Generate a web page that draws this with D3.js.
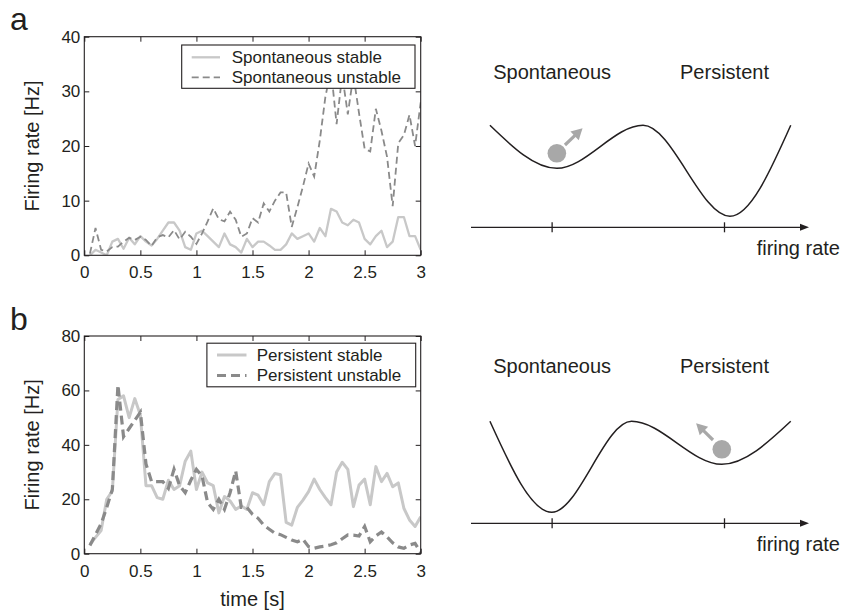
<!DOCTYPE html>
<html>
<head>
<meta charset="utf-8">
<script src="https://cdn.jsdelivr.net/npm/d3@7"></script>
<style>
  body { margin: 0; background: #fff; }
  svg { display: block; font-family: "Liberation Sans", Arial, sans-serif; }
</style>
</head>
<body>
<div id="chart"></div>
<script>
// sample times (s)
const timeS = [
  0.05, 0.10, 0.15, 0.20, 0.25, 0.30, 0.35, 0.40, 0.45, 0.50,
  0.55, 0.60, 0.65, 0.70, 0.75, 0.80, 0.85, 0.90, 0.95, 1.00,
  1.05, 1.10, 1.15, 1.20, 1.25, 1.30, 1.35, 1.40, 1.45, 1.50,
  1.55, 1.60, 1.65, 1.70, 1.75, 1.80, 1.85, 1.90, 1.95, 2.00,
  2.05, 2.10, 2.15, 2.20, 2.25, 2.30, 2.35, 2.40, 2.45, 2.50,
  2.55, 2.60, 2.65, 2.70, 2.75, 2.80, 2.85, 2.90, 2.95, 3.00
];

// panel a : firing rate (Hz)
const spontStable = [
  0, 1, 0.5, 0, 2.5, 3, 1.2, 3.2, 2, 3.5,
  2.5, 1.8, 3, 4.5, 6, 6, 4.5, 1.5, 1, 4,
  4.5, 3.5, 2.5, 1.5, 4, 2, 1.5, 0.5, 3, 1.5,
  2.5, 2.5, 1.8, 1, 1, 2, 4, 3, 3.5, 4,
  2.5, 5, 3.5, 8.5, 8, 6, 5.5, 6.5, 6, 3,
  2, 3.5, 4.5, 1.5, 2.5, 7, 7, 3.5, 3.5, 1
];
const spontUnstable = [
  0.3, 5, 1, 0.7, 1.5, 1.6, 2.5, 3.2, 2.8, 3.4,
  2.8, 1.7, 3.3, 3.7, 3.3, 4.6, 2.9, 4.3, 3.4, 2.1,
  4, 6.2, 8.6, 6.6, 6.2, 8, 6.5, 3.4, 4, 6.8,
  6, 9.5, 8, 10, 11.5, 11.5, 5.2, 8.8, 12.6, 16.8,
  14.4, 21, 29, 34, 24, 33, 25.8, 33, 26, 19.5,
  19, 26.8, 22.8, 18, 9, 20.5, 22, 25.7, 20, 28
];

// panel b : firing rate (Hz)
const persStable = [
  3.4, 6, 8.5, 20, 23, 56.7, 58, 50, 57, 51,
  25, 25, 20.6, 20, 27, 23.6, 25, 34, 37.7, 23.6,
  30, 26, 25, 15, 21, 19.4, 16.3, 17.5, 16.3, 22.4,
  21.5, 18, 26.5, 29.5, 29, 11.5, 10.5, 17, 19.7, 22.8,
  27.4, 23.6, 20.6, 18, 30, 33.6, 31, 17.3, 25.2, 27.4,
  18, 32, 26.5, 29.5, 24.6, 26, 16.7, 12.4, 10, 13.6
];
const persUnstable = [
  3, 7, 11, 17, 23.6, 62, 43, 46, 49, 52,
  33, 26.5, 26.5, 26.5, 24, 31, 25, 22.4, 27, 31,
  28.5, 18.7, 16.3, 20, 16.3, 22.4, 30.4, 17, 17, 14.5,
  13, 10.5, 9, 7.5, 7, 6, 5, 4.4, 5.3, 2.6,
  2, 2.5, 2.8, 3.3, 4, 5.5, 6.9, 6.8, 6.5, 10,
  4.4, 6.5, 8, 6.2, 4, 2.5, 2, 3.2, 3.8, 0.4
];

const xTicks = [0, 0.5, 1, 1.5, 2, 2.5, 3];
const yTicksA = [0, 10, 20, 30, 40];
const yTicksB = [0, 20, 40, 60, 80];
const legendA = ["Spontaneous stable", "Spontaneous unstable"];
const legendB = ["Persistent stable", "Persistent unstable"];

// energy landscapes (schematic): firing-rate position 0..100, height above axis
const stateNames = ["Spontaneous", "Persistent"];
const wellTicks = [24, 75];
const landscapeA = [
  { x: 5.6, u: 102 }, { x: 25.4, u: 59 }, { x: 50.9, u: 102 }, { x: 76.6, u: 11 }, { x: 94.6, u: 102 }
];
const landscapeB = [
  { x: 5.6, u: 102 }, { x: 23.9, u: 11 }, { x: 47.5, u: 102 }, { x: 74.2, u: 59 }, { x: 94.6, u: 102 }
];
const ballA = { x: 25.4, u: 74 }, kickA = [{ x: 27.8, u: 82.3 }, { x: 33.0, u: 99 }];
const ballB = { x: 74.2, u: 74 }, kickB = [{ x: 71.6, u: 83.3 }, { x: 66.6, u: 100 }];

const W = 843, H = 612;
const ink = "#231f20";
const svg = d3.select("#chart").append("svg").attr("width", W).attr("height", H);

const x = d3.scaleLinear().domain([0, 3]).range([84.3, 420.7]);

function drawTraces(cfg) {
  const y = d3.scaleLinear().domain([0, cfg.yMax]).range([cfg.bottom, cfg.top]);
  const g = svg.append("g");
  const clipId = "clip-" + cfg.id;
  svg.append("clipPath").attr("id", clipId).append("rect")
    .attr("x", x(0)).attr("y", cfg.top).attr("width", x(3) - x(0)).attr("height", cfg.bottom - cfg.top);

  const line = d3.line().x((d, i) => x(timeS[i])).y(d => y(d));
  const lines = g.append("g").attr("clip-path", `url(#${clipId})`);
  lines.append("path").attr("d", line(cfg.stable))
    .attr("fill", "none").attr("stroke", "#c8c8c8").attr("stroke-width", cfg.stableW)
    .attr("stroke-linejoin", "round");
  lines.append("path").attr("d", line(cfg.unstable))
    .attr("fill", "none").attr("stroke", "#8a8a8a").attr("stroke-width", cfg.unstableW)
    .attr("stroke-dasharray", cfg.dash);

  // axes: ticks point inward, on all four sides
  const fmt = d => d3.format("")(d);
  g.append("g").attr("transform", `translate(0,${cfg.bottom})`)
    .call(d3.axisBottom(x).tickValues(xTicks).tickFormat(fmt).tickSize(-5).tickPadding(11));
  g.append("g").attr("transform", `translate(0,${cfg.top})`)
    .call(d3.axisTop(x).tickValues(xTicks).tickFormat("").tickSize(-5));
  g.append("g").attr("transform", `translate(${x(0)},0)`)
    .call(d3.axisLeft(y).tickValues(cfg.yTicks).tickSize(-5).tickPadding(4));
  g.append("g").attr("transform", `translate(${x(3)},0)`)
    .call(d3.axisRight(y).tickValues(cfg.yTicks).tickFormat("").tickSize(-5));
  g.selectAll(".domain").remove();
  g.selectAll(".tick line").attr("stroke", ink);
  g.selectAll(".tick text").attr("fill", ink).style("font-size", "17px").style("font-family", "inherit");

  g.append("rect").attr("x", x(0)).attr("y", cfg.top)
    .attr("width", x(3) - x(0)).attr("height", cfg.bottom - cfg.top)
    .attr("fill", "none").attr("stroke", ink).attr("stroke-width", 1.1);

  g.append("text")
    .attr("transform", `translate(38.5,${(cfg.top + cfg.bottom) / 2}) rotate(-90)`)
    .attr("text-anchor", "middle").attr("fill", ink).style("font-size", "20px")
    .text("Firing rate [Hz]");

  // legend
  const lg = cfg.legend;
  g.append("rect").attr("x", lg.x0).attr("y", lg.y0).attr("width", lg.x1 - lg.x0).attr("height", lg.y1 - lg.y0)
    .attr("fill", "#fff").attr("stroke", ink).attr("stroke-width", 1.1);
  const rows = [
    { name: cfg.names[0], color: "#c8c8c8", w: cfg.stableW, dash: null, yy: lg.r0 },
    { name: cfg.names[1], color: "#8a8a8a", w: cfg.unstableW, dash: cfg.dash, yy: lg.r1 }
  ];
  rows.forEach(r => {
    g.append("line").attr("x1", lg.s0).attr("x2", lg.s1).attr("y1", r.yy).attr("y2", r.yy)
      .attr("stroke", r.color).attr("stroke-width", r.w).attr("stroke-dasharray", r.dash);
    g.append("text").attr("x", lg.tx).attr("y", r.yy).attr("dy", "0.35em")
      .attr("fill", ink).style("font-size", "17px").text(r.name);
  });
  return g;
}

drawTraces({
  id: "a", top: 36.7, bottom: 255.3, yMax: 40, yTicks: yTicksA,
  stable: spontStable, unstable: spontUnstable, names: legendA,
  stableW: 2.3, unstableW: 1.8, dash: "7,4",
  legend: { x0: 181.7, x1: 415, y0: 45, y1: 88.3, r0: 57.3, r1: 77.3, s0: 191.7, s1: 220, tx: 231.7 }
});
drawTraces({
  id: "b", top: 336, bottom: 553.7, yMax: 80, yTicks: yTicksB,
  stable: persStable, unstable: persUnstable, names: legendB,
  stableW: 3, unstableW: 3.2, dash: "9,5",
  legend: { x0: 206.9, x1: 415.7, y0: 343.2, y1: 386.8, r0: 355, r1: 375.5, s0: 217, s1: 246.5, tx: 256.7 }
});

svg.append("text").attr("x", x(1.5)).attr("y", 606).attr("text-anchor", "middle")
  .attr("fill", ink).style("font-size", "20px").text("time [s]");

// panel letters
svg.append("text").attr("x", 10).attr("y", 30).attr("fill", ink).style("font-size", "32px").text("a");
svg.append("text").attr("x", 10).attr("y", 330).attr("fill", ink).style("font-size", "32px").text("b");

// landscape diagrams
const fx = d3.scaleLinear().domain([0, 100]).range([471, 809]);

function drawLandscape(axisY, labelY, pts, ball, kick) {
  const u = d3.scaleLinear().domain([0, 100]).range([axisY, axisY - 100]);
  const g = svg.append("g");

  // firing-rate axis with arrow
  g.append("line").attr("x1", fx(0)).attr("x2", fx(98)).attr("y1", axisY).attr("y2", axisY)
    .attr("stroke", ink).attr("stroke-width", 1.3);
  g.append("path").attr("d", `M${fx(100)},${axisY}L${fx(100) - 9},${axisY - 3.5}L${fx(100) - 9},${axisY + 3.5}Z`)
    .attr("fill", ink);
  g.selectAll(".wt").data(wellTicks).enter().append("line")
    .attr("x1", d => fx(d)).attr("x2", d => fx(d)).attr("y1", axisY - 5).attr("y2", axisY + 5)
    .attr("stroke", ink).attr("stroke-width", 1.3);
  g.append("text").attr("x", 840).attr("y", axisY + 21).attr("dy", "0.35em").attr("text-anchor", "end")
    .attr("fill", ink).style("font-size", "20px").text("firing rate");

  g.selectAll(".sn").data(stateNames).enter().append("text")
    .attr("x", (d, i) => fx(wellTicks[i])).attr("y", labelY).attr("dy", "0.35em")
    .attr("text-anchor", "middle").attr("fill", ink).style("font-size", "20px").text(d => d);

  // potential curve
  const curve = d3.line().x(d => fx(d.x)).y(d => u(d.u)).curve(d3.curveMonotoneX);
  g.append("path").attr("d", curve(pts)).attr("fill", "none").attr("stroke", ink).attr("stroke-width", 1.5);

  // ball and kick arrow
  g.append("circle").attr("cx", fx(ball.x)).attr("cy", u(ball.u)).attr("r", 9.3).attr("fill", "#a8a8a8");
  const x0 = fx(kick[0].x), y0 = u(kick[0].u), x1 = fx(kick[1].x), y1 = u(kick[1].u);
  const len = Math.hypot(x1 - x0, y1 - y0), ux = (x1 - x0) / len, uy = (y1 - y0) / len;
  const hl = 11, hw = 6;
  const bx = x1 - ux * hl, by = y1 - uy * hl;
  g.append("line").attr("x1", x0).attr("y1", y0).attr("x2", bx + ux).attr("y2", by + uy)
    .attr("stroke", "#a8a8a8").attr("stroke-width", 3.2);
  g.append("path")
    .attr("d", `M${x1},${y1}L${bx - uy * hw},${by + ux * hw}L${bx + uy * hw},${by - ux * hw}Z`)
    .attr("fill", "#a8a8a8");
}

drawLandscape(227.3, 72, landscapeA, ballA, kickA);
drawLandscape(523.3, 366, landscapeB, ballB, kickB);
</script>
</body>
</html>
